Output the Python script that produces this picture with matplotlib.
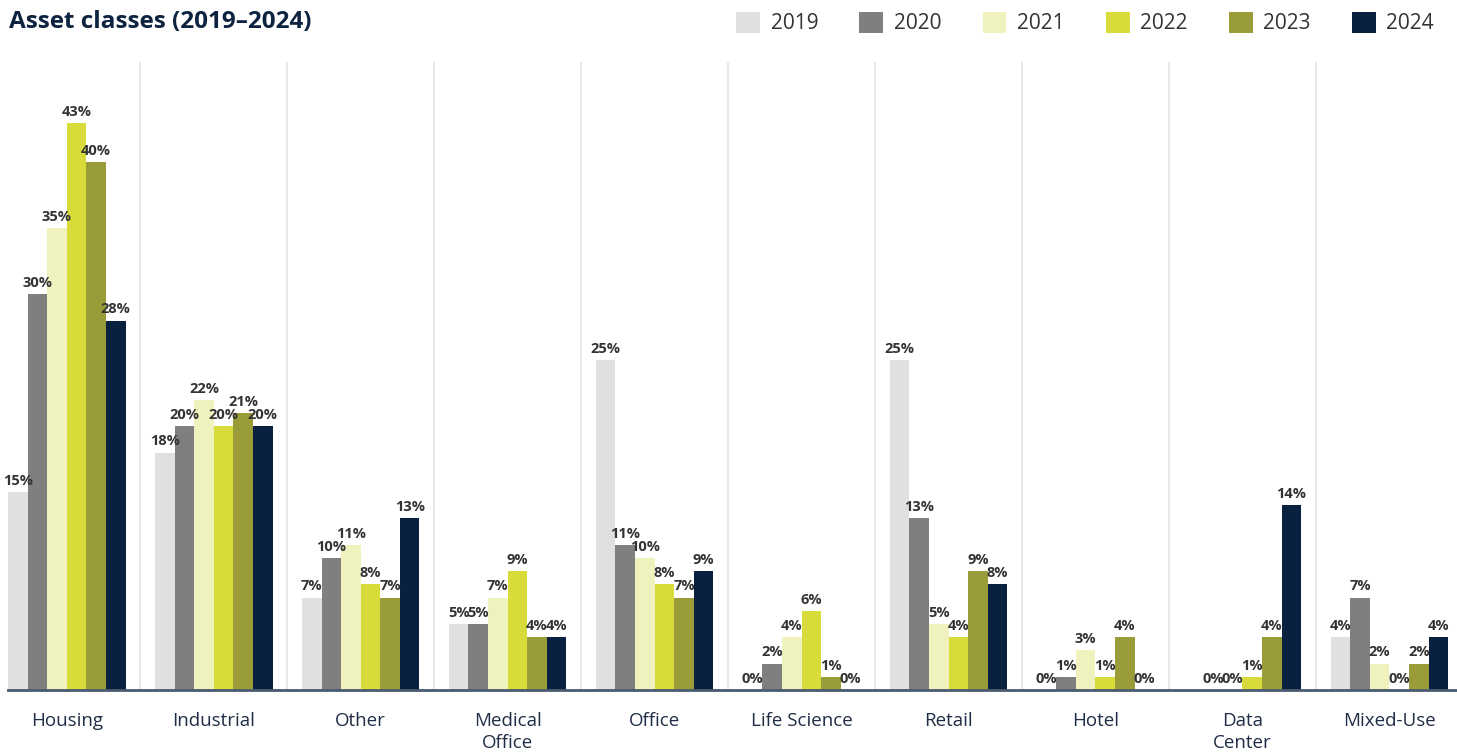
import numpy as np
import matplotlib
matplotlib.use("Agg")
import matplotlib.pyplot as plt
from matplotlib.patches import Patch

plt.rcParams['font.family'] = ['Open Sans', 'DejaVu Sans']

categories = ["Housing", "Industrial", "Other", "Medical\nOffice", "Office",
              "Life Science", "Retail", "Hotel", "Data\nCenter", "Mixed-Use"]
years = ["2019", "2020", "2021", "2022", "2023", "2024"]

# share of volume per asset class (%), one list per year (nan = no value shown)
v2019 = [15, 18, 7, 5, 25, 0, 25, 0, np.nan, 4]
v2020 = [30, 20, 10, 5, 11, 2, 13, 1, 0, 7]
v2021 = [35, 22, 11, 7, 10, 4, 5, 3, 0, 2]
v2022 = [43, 20, 8, 9, 8, 6, 4, 1, 1, 0]
v2023 = [40, 21, 7, 4, 7, 1, 9, 4, 4, 2]
v2024 = [28, 20, 13, 4, 9, 0, 8, 0, 14, 4]
series = [v2019, v2020, v2021, v2022, v2023, v2024]

colors = ["#e0e0e0", "#7f7f7d", "#eff2bc", "#d8dc3a", "#9a9c3a", "#09213f"]

W, H = 1457, 755
fig = plt.figure(figsize=(W / 100, H / 100), dpi=100)
ax = fig.add_axes([8 / W, (H - 690) / H, 1 - 8 / W, (690 - 62) / H])

x = np.arange(len(categories))
bw = 0.8 / len(years)
for i, (vals, c) in enumerate(zip(series, colors)):
    pos = x - 0.4 + bw * (i + 0.5)
    ax.bar(pos, vals, width=bw, color=c, zorder=2)
    for px, v in zip(pos, vals):
        if np.isnan(v):
            continue
        ax.annotate(f"{v:.0f}%", (px, v), xytext=(0, 3), textcoords="offset points",
                    ha="center", va="bottom", fontsize=10.5, fontweight="bold",
                    color="#333333", zorder=3)

# separators between groups
for s in x[:-1] + 0.5:
    ax.axvline(s, color="#e3e3e3", lw=1.2, zorder=1)

ax.set_xlim(-0.4, 9.46)
ax.set_ylim(0, 47.6)
ax.set_yticks([])
ax.set_xticks(x)
ax.set_xticklabels(categories, fontsize=13.5, color="#1f2d46", linespacing=1.25)
ax.tick_params(axis="x", length=0, pad=16)
for side in ["top", "right", "left"]:
    ax.spines[side].set_visible(False)
ax.spines["bottom"].set_color("#4a5a70")
ax.spines["bottom"].set_linewidth(2)

fig.text(9 / W, 1 - 22 / H, "Asset classes (2019\u20132024)", fontsize=17.5,
         fontweight="bold", color="#0d2340", va="center", ha="left")

handles = [Patch(facecolor=c, edgecolor="none") for c in colors]
fig.legend(handles, years, loc="upper right", bbox_to_anchor=(1434 / W, 1 - 12 / H),
           ncol=6, frameon=False, fontsize=15, handlelength=1.15, handleheight=1.15,
           handletextpad=0.5, columnspacing=1.98, borderpad=0, borderaxespad=0,
           labelcolor="#333333")

fig.savefig("out.png", dpi=100)
